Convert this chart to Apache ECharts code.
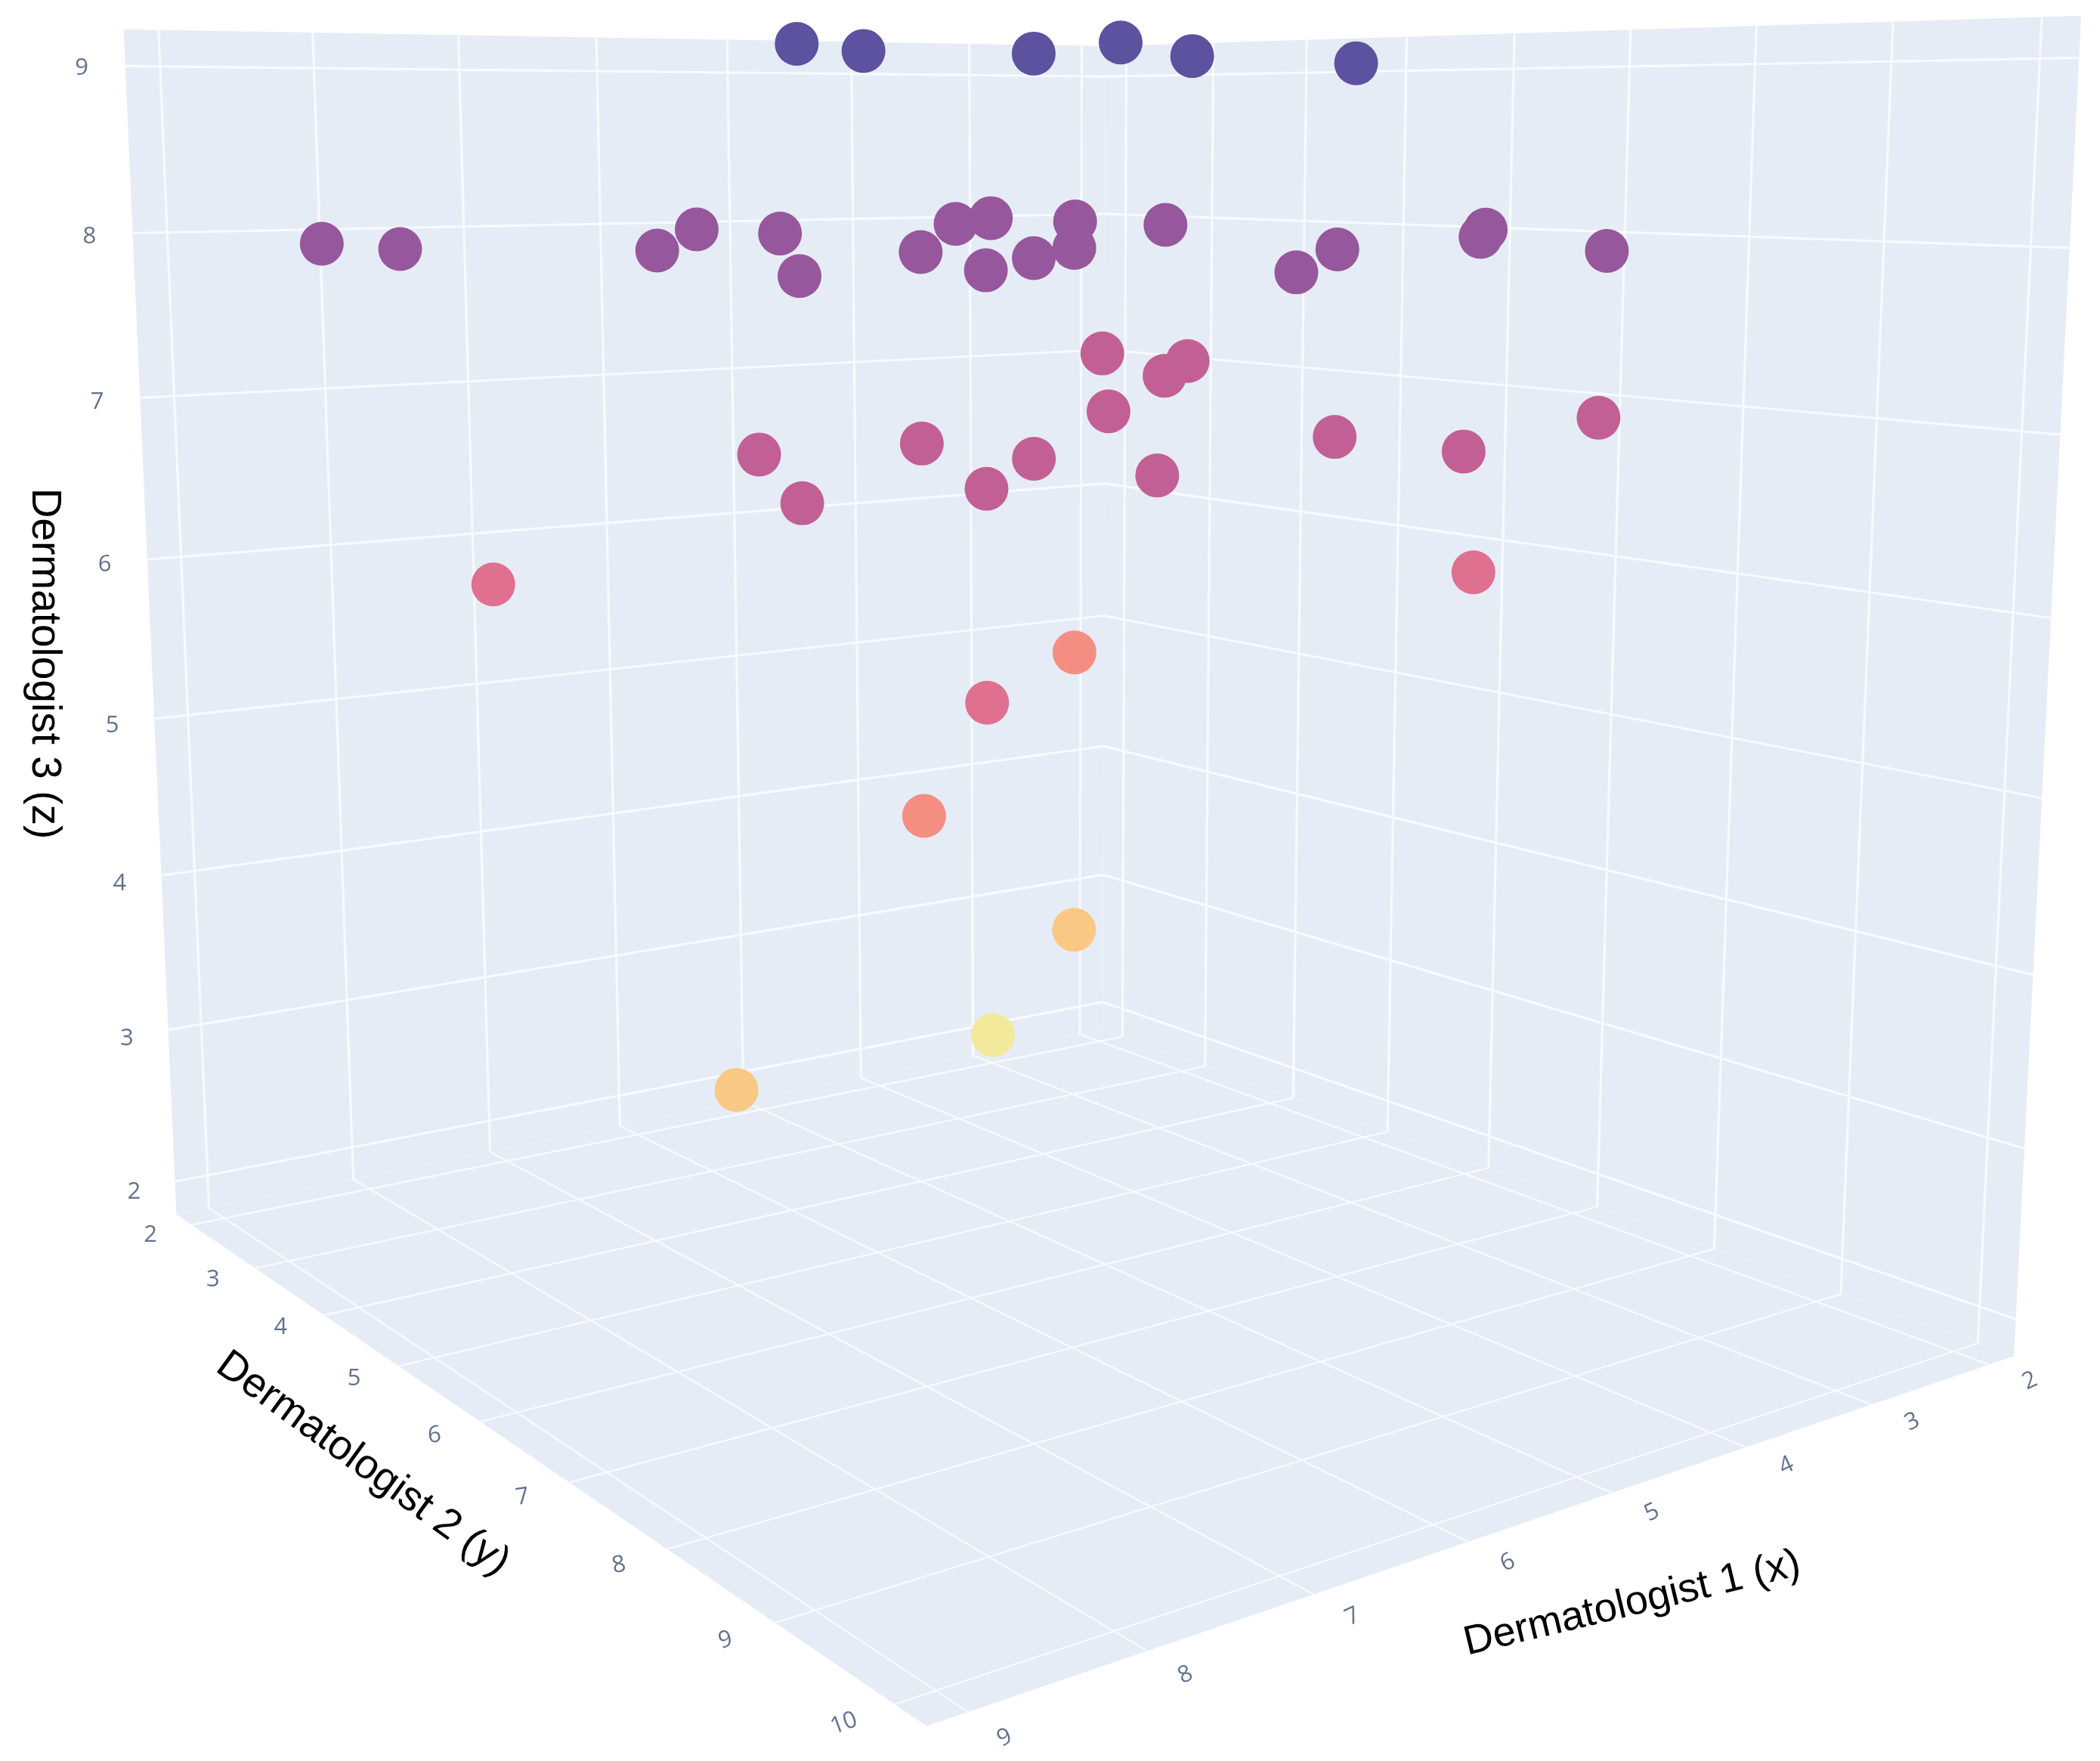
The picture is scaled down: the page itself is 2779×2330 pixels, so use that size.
<!doctype html>
<html><head><meta charset="utf-8"><style>html,body{margin:0;padding:0;background:#fff}#chart{width:2779px;height:2330px}</style></head>
<body><div id="chart"></div>
<script src="https://cdn.jsdelivr.net/npm/echarts@6/dist/echarts.min.js"></script>
<script>
// Ratings
const dermX=[9,8,7,8,6,4, 9,9,8,6,6,9,7,4,3,8,7,3,6,3,7,5,3,2,4, 2,3,2,5,8,7,7,9,8,7,5,5,3, 8,3,8, 3,7, 3,7, 3];
const dermY=[9,8,8,10,8,7, 4,5,6,3,4,9,7,3,2,9,8,3,7,4,10,8,7,6,9, 2,4,3,6,7,7,8,9,9,9,8,9,8, 4,7,9, 3,7, 3,5, 2];
const dermZ=[9,9,9,9,9,9, 8,8,8,8,8,8,8,8,8,8,8,8,8,8,8,8,8,8,8, 7,7,7,7,7,7,7,7,7,7,7,7,7, 6,6,6, 5,5, 3,3, 2];
const zLevels=[2,3,5,6,7,8,9];
const zColors=['#F2E99B','#FAC885','#F58E82','#DF7090','#C26095','#97579D','#5C52A0'];
const xTicks=[2,3,4,5,6,7,8,9];
const yTicks=[2,3,4,5,6,7,8,9,10];
const zTicks=[2,3,4,5,6,7,8,9];
const xRange=[1.78125,9.21875];
const yRange=[1.75,10.25];
const zRange=[1.78125,9.21875];
const xTitle='Dermatologist 1 (x)',yTitle='Dermatologist 2 (y)',zTitle='Dermatologist 3 (z)';
// Fitted camera: homogeneous 3x4 projection from data space to the page
const camera=[-153.7165,53.05291,-8.001761,1513.661,-3.386222,-4.659627,-158.4343,1527.276,-0.02061271,-0.02820056,-0.005792022,1];
const depth=(x,y,z)=>camera[8]*x+camera[9]*y+camera[10]*z+camera[11];
const proj=(x,y,z)=>{const w=depth(x,y,z);return[(camera[0]*x+camera[1]*y+camera[2]*z+camera[3])/w,(camera[4]*x+camera[5]*y+camera[6]*z+camera[7])/w];};

const [xa,xb]=xRange,[ya,yb]=yRange,[za,zb]=zRange;
const panes=[
 [[xa,ya,za],[xb,ya,za],[xb,ya,zb],[xa,ya,zb]],
 [[xa,ya,za],[xa,yb,za],[xa,yb,zb],[xa,ya,zb]],
 [[xa,ya,za],[xb,ya,za],[xb,yb,za],[xa,yb,za]]
];
const wall=[],floor=[];
xTicks.forEach(t=>{wall.push([[t,ya,za],[t,ya,zb]]);floor.push([[t,ya,za],[t,yb,za]]);});
yTicks.forEach(t=>{wall.push([[xa,t,za],[xa,t,zb]]);floor.push([[xa,t,za],[xb,t,za]]);});
zTicks.forEach(t=>{wall.push([[xa,ya,t],[xb,ya,t]]);wall.push([[xa,ya,t],[xa,yb,t]]);});
const gridSeries=(segs,width)=>segs.map(s=>({type:'line',silent:true,animation:false,symbol:'none',z:2,
  data:s.map(p=>proj(...p)),lineStyle:{color:'#f9fafd',width}}));

const points=dermX.map((x,i)=>({x,y:dermY[i],z:dermZ[i]})).sort((a,b)=>depth(b.x,b.y,b.z)-depth(a.x,a.y,a.z));

const LABEL_OUT=0.27;
const tickFont={fontFamily:'"Open Sans"',fontSize:31,color:'#3a4f73'};
const tickSeries=(items)=>({type:'scatter',silent:true,animation:false,symbolSize:1,z:4,
  itemStyle:{color:'transparent'},
  label:{show:true,position:'inside',formatter:'{b}',offset:[0,3],...tickFont},
  data:items.map(d=>({name:String(d.t),value:proj(...d.p),label:{rotate:d.r||0}}))});

const chart=echarts.init(document.getElementById('chart'),null,{renderer:'canvas'});
chart.setOption({
  animation:false,backgroundColor:'#fff',
  grid:{left:0,right:0,top:0,bottom:0},
  xAxis:{type:'value',min:0,max:2779,show:false},
  yAxis:{type:'value',min:0,max:2330,inverse:true,show:false},
  graphic:[
    {type:'text',x:58,y:878,rotation:-Math.PI/2,z:10,style:{text:zTitle,fill:'#000',font:'55px "Liberation Sans"',align:'center',verticalAlign:'middle'}},
    {type:'text',x:480,y:1937,rotation:-36*Math.PI/180,z:10,style:{text:yTitle,fill:'#000',font:'55px "Liberation Sans"',align:'center',verticalAlign:'middle'}},
    {type:'text',x:2160,y:2122,rotation:13.5*Math.PI/180,z:10,style:{text:xTitle,fill:'#000',font:'54px "Liberation Sans"',align:'center',verticalAlign:'middle'}}
  ],
  series:[
    {type:'custom',silent:true,animation:false,z:1,coordinateSystem:'cartesian2d',data:panes.map((_,i)=>[i,i]),
     renderItem:(params,api)=>({type:'polygon',shape:{points:panes[params.dataIndex].map(p=>api.coord(proj(...p)))},style:{fill:'#E6ECF6'}})},
    ...gridSeries(floor,2.2),
    ...gridSeries(wall,3),
    {type:'scatter',animation:false,z:3,symbolSize:58,symbolOffset:[1,1],
     data:points.map(d=>({value:proj(d.x,d.y,d.z),itemStyle:{color:zColors[zLevels.indexOf(d.z)],opacity:1}}))},
    tickSeries(xTicks.map(t=>({t,p:[t,yb+LABEL_OUT,za],r:25}))),
    tickSeries(yTicks.map(t=>({t,p:[xb+LABEL_OUT,t,za],r:Math.max(0,t-5)*4}))),
    tickSeries(zTicks.map(t=>({t,p:[xb+LABEL_OUT,ya,t]})))
  ]
});
</script></body></html>
